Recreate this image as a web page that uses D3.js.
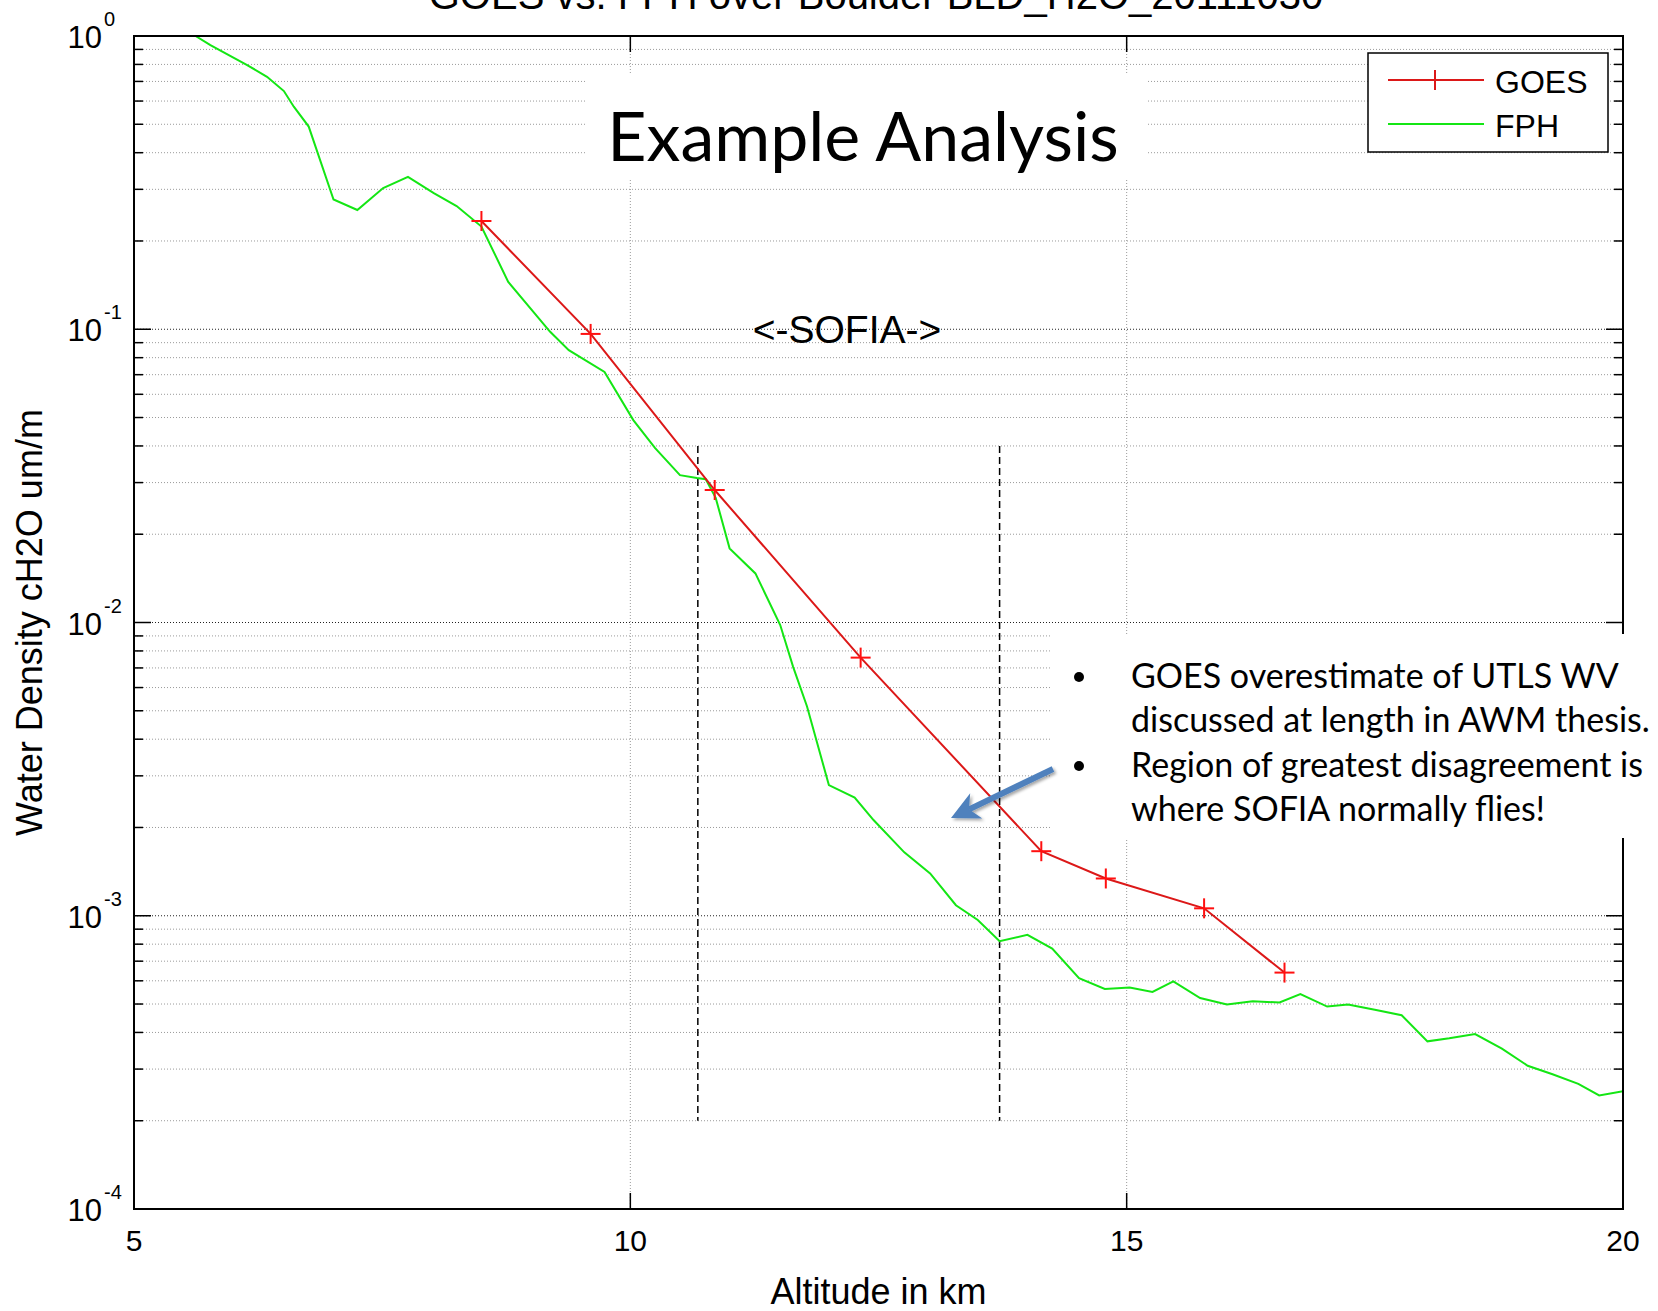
<!DOCTYPE html>
<html>
<head>
<meta charset="utf-8">
<script src="https://cdn.jsdelivr.net/npm/d3@7"></script>
<style>
  html, body { margin: 0; padding: 0; background: #fff; }
  svg { display: block; }
  .ml { font-family: "Liberation Sans", Arial, Helvetica, sans-serif; fill: #000; }
  .pp { font-family: Lato, "Open Sans", sans-serif; fill: #000; }
</style>
</head>
<body>
<svg id="chart" width="1658" height="1311"></svg>
<script>
// GOES retrieval points (altitude km, water density)
const goesAlt = [8.50, 9.60, 10.85, 12.32, 14.14, 14.79, 15.78, 16.59];
const goesVal = [0.234, 0.0964, 0.0283, 0.00759, 0.00166, 0.00134, 0.00106, 0.00064];

// FPH frost point hygrometer profile
const fphAlt = [5.62, 5.77, 6.14, 6.34, 6.51, 6.61, 6.76, 7.01, 7.25, 7.51, 7.76, 8.02, 8.25, 8.50,
  8.77, 9.19, 9.38, 9.74, 10.03, 10.25, 10.50, 10.67, 10.76, 10.86, 11.00, 11.26, 11.51, 11.64,
  11.78, 12.00, 12.26, 12.45, 12.76, 13.02, 13.28, 13.50, 13.72, 14.00, 14.25, 14.52, 14.78,
  15.03, 15.26, 15.47, 15.74, 16.01, 16.27, 16.54, 16.75, 17.02, 17.23, 17.50, 17.77, 18.03,
  18.25, 18.51, 18.78, 19.04, 19.29, 19.55, 19.76, 20.0];
const fphVal = [1.0, 0.931, 0.796, 0.726, 0.649, 0.574, 0.491, 0.277, 0.255, 0.303, 0.331, 0.291, 0.263, 0.224,
  0.145, 0.0982, 0.0849, 0.0715, 0.0490, 0.0393, 0.0318, 0.0311, 0.0308, 0.0266, 0.0179, 0.0147, 0.0098, 0.00706,
  0.00517, 0.00279, 0.00253, 0.00212, 0.001645, 0.001394, 0.001086, 0.000967, 0.000819, 0.000861, 0.000773, 0.000612, 0.000563,
  0.000569, 0.000550, 0.000597, 0.000524, 0.000498, 0.000511, 0.000506, 0.000541, 0.000490, 0.000498, 0.000478, 0.000458, 0.000373,
  0.000382, 0.000395, 0.000352, 0.000308, 0.000288, 0.000267, 0.000244, 0.000252];

// SOFIA altitude band markers
const sofiaBand = [10.68, 13.72];
const sofiaSpan = [2.0e-4, 0.04];

const xTicks = [5, 10, 15, 20];
const yDecades = [-4, -3, -2, -1, 0];

const chartTitle = "GOES vs. FPH over Boulder BLD_H2O_20111030";
const xLabel = "Altitude in km";
const yLabel = "Water Density cH2O um/m";
const bullets = [
  ["GOES overestimate of UTLS WV", "discussed at length in AWM thesis."],
  ["Region of greatest disagreement is", "where SOFIA normally flies!"]
];

const L = 134, R = 1623, T = 36, B = 1209;
const svg = d3.select("#chart");
const x = d3.scaleLinear().domain([5, 20]).range([L, R]);
const y = d3.scaleLog().domain([1e-4, 1]).range([B, T]);

// grid
const grid = svg.append("g");
const minorVals = [];
for (let k = -4; k < 0; k++) for (let m = 2; m <= 9; m++) minorVals.push(m * Math.pow(10, k));
grid.selectAll("line.minor").data(minorVals).join("line")
  .attr("x1", L).attr("x2", R).attr("y1", d => y(d)).attr("y2", d => y(d))
  .attr("stroke", "#9a9a9a").attr("stroke-width", 1).attr("stroke-dasharray", "1,2");
grid.selectAll("line.major").data(yDecades.slice(1, -1)).join("line")
  .attr("x1", L).attr("x2", R).attr("y1", d => y(Math.pow(10, d))).attr("y2", d => y(Math.pow(10, d)))
  .attr("stroke", "#222").attr("stroke-width", 1).attr("stroke-dasharray", "1,2");
grid.selectAll("line.vx").data(xTicks.slice(1, -1)).join("line")
  .attr("x1", d => x(d)).attr("x2", d => x(d)).attr("y1", T).attr("y2", B)
  .attr("stroke", "#9a9a9a").attr("stroke-width", 1).attr("stroke-dasharray", "1,2");

// ticks (inside, all four sides)
const ticks = svg.append("g").attr("stroke", "#000").attr("stroke-width", 1.5);
minorVals.forEach(v => {
  ticks.append("line").attr("x1", L).attr("x2", L + 9).attr("y1", y(v)).attr("y2", y(v));
  ticks.append("line").attr("x1", R).attr("x2", R - 9).attr("y1", y(v)).attr("y2", y(v));
});
yDecades.forEach(d => {
  const v = Math.pow(10, d);
  ticks.append("line").attr("x1", L).attr("x2", L + 17).attr("y1", y(v)).attr("y2", y(v));
  ticks.append("line").attr("x1", R).attr("x2", R - 17).attr("y1", y(v)).attr("y2", y(v));
});
xTicks.forEach(t => {
  ticks.append("line").attr("x1", x(t)).attr("x2", x(t)).attr("y1", B).attr("y2", B - 16);
  ticks.append("line").attr("x1", x(t)).attr("x2", x(t)).attr("y1", T).attr("y2", T + 16);
});

// SOFIA band
svg.append("g").selectAll("line").data(sofiaBand).join("line")
  .attr("x1", d => x(d)).attr("x2", d => x(d))
  .attr("y1", y(sofiaSpan[1])).attr("y2", y(sofiaSpan[0]))
  .attr("stroke", "#000").attr("stroke-width", 1.5).attr("stroke-dasharray", "7,4");

// clip for series
svg.append("clipPath").attr("id", "plotclip").append("rect")
  .attr("x", L).attr("y", T).attr("width", R - L).attr("height", B - T);

const line = d3.line().x(d => x(d[0])).y(d => y(d[1]));
const fph = fphAlt.map((a, i) => [a, fphVal[i]]);
const goes = goesAlt.map((a, i) => [a, goesVal[i]]);

svg.append("path").attr("clip-path", "url(#plotclip)").datum(fph).attr("d", line)
  .attr("fill", "none").attr("stroke", "#14e614").attr("stroke-width", 2);
svg.append("path").datum(goes).attr("d", line)
  .attr("fill", "none").attr("stroke", "#dc1818").attr("stroke-width", 2);
const plus = svg.append("g").attr("stroke", "#ff1010").attr("stroke-width", 2);
goes.forEach(p => {
  const cx = x(p[0]), cy = y(p[1]);
  plus.append("line").attr("x1", cx - 10).attr("x2", cx + 10).attr("y1", cy).attr("y2", cy);
  plus.append("line").attr("x1", cx).attr("x2", cx).attr("y1", cy - 10).attr("y2", cy + 10);
});

// axes frame
svg.append("rect").attr("x", L).attr("y", T).attr("width", R - L).attr("height", B - T)
  .attr("fill", "none").attr("stroke", "#000").attr("stroke-width", 2);

// tick labels
const lab = svg.append("g").attr("class", "ml");
xTicks.forEach(t => {
  lab.append("text").attr("x", x(t)).attr("y", 1251).attr("text-anchor", "middle")
    .attr("font-size", 30).text(t);
});
yDecades.forEach(d => {
  const yy = y(Math.pow(10, d));
  lab.append("text").attr("x", 102).attr("y", yy + 12).attr("text-anchor", "end")
    .attr("font-size", 31).text("10");
  lab.append("text").attr("x", 104).attr("y", yy - 10).attr("text-anchor", "start")
    .attr("font-size", 20).text(d);
});

// axis labels and title
lab.append("text").attr("x", (L + R) / 2).attr("y", 1304).attr("text-anchor", "middle")
  .attr("font-size", 36).text(xLabel);
lab.append("text").attr("transform", `translate(42,${(T + B) / 2}) rotate(-90)`)
  .attr("text-anchor", "middle").attr("font-size", 36).text(yLabel);
lab.append("text").attr("x", 876).attr("y", 9).attr("text-anchor", "middle")
  .attr("font-size", 40).text(chartTitle);
lab.append("text").attr("x", 847).attr("y", 343).attr("text-anchor", "middle")
  .attr("font-size", 39).text("<-SOFIA->");

// legend
const lg = svg.append("g");
lg.append("rect").attr("x", 1368).attr("y", 53).attr("width", 240).attr("height", 99)
  .attr("fill", "#fff").attr("stroke", "#000").attr("stroke-width", 1.5);
lg.append("line").attr("x1", 1388).attr("x2", 1484).attr("y1", 80).attr("y2", 80)
  .attr("stroke", "#dc1818").attr("stroke-width", 2);
lg.append("line").attr("x1", 1435).attr("x2", 1435).attr("y1", 70).attr("y2", 90)
  .attr("stroke", "#dc1818").attr("stroke-width", 2);
lg.append("line").attr("x1", 1388).attr("x2", 1484).attr("y1", 124).attr("y2", 124)
  .attr("stroke", "#14e614").attr("stroke-width", 2);
lg.append("text").attr("class", "ml").attr("x", 1495).attr("y", 93).attr("font-size", 32).text("GOES");
lg.append("text").attr("class", "ml").attr("x", 1495).attr("y", 137).attr("font-size", 32).text("FPH");

// slide overlays: headline box and notes box
svg.append("rect").attr("x", 586).attr("y", 74).attr("width", 562).attr("height", 106).attr("fill", "#fff");
svg.append("text").attr("class", "pp").attr("x", 863).attr("y", 161).attr("text-anchor", "middle")
  .attr("font-size", 68).text("Example Analysis");

svg.append("rect").attr("x", 1052).attr("y", 634).attr("width", 606).attr("height", 204).attr("fill", "#fff");
const notes = svg.append("g").attr("class", "pp").attr("font-size", 34);
const baselines = [688, 732, 777, 821];
bullets.forEach((b, i) => {
  notes.append("circle").attr("cx", 1079).attr("cy", baselines[i * 2] - 11).attr("r", 5).attr("fill", "#000");
  b.forEach((ln, j) => {
    notes.append("text").attr("x", 1131).attr("y", baselines[i * 2 + j]).text(ln);
  });
});

// pointer arrow
const defs = svg.append("defs");
const f = defs.append("filter").attr("id", "shadow").attr("x", "-20%").attr("y", "-20%").attr("width", "140%").attr("height", "140%");
f.append("feDropShadow").attr("dx", 2).attr("dy", 2).attr("stdDeviation", 1.5).attr("flood-color", "#000").attr("flood-opacity", 0.35);
const ax0 = 1053, ay0 = 769, ax1 = 951, ay1 = 818;
const ang = Math.atan2(ay1 - ay0, ax1 - ax0);
const hl = 28, hw = 14;
const bx = ax1 - hl * Math.cos(ang), by = ay1 - hl * Math.sin(ang);
const arrow = svg.append("g").attr("filter", "url(#shadow)");
arrow.append("line").attr("x1", ax0).attr("y1", ay0).attr("x2", bx + 8 * Math.cos(ang)).attr("y2", by + 8 * Math.sin(ang))
  .attr("stroke", "#4f81bd").attr("stroke-width", 6);
arrow.append("path").attr("d", `M${ax1},${ay1} L${bx - hw * Math.sin(ang)},${by + hw * Math.cos(ang)} L${bx + 8 * Math.cos(ang)},${by + 8 * Math.sin(ang)} L${bx + hw * Math.sin(ang)},${by - hw * Math.cos(ang)} Z`)
  .attr("fill", "#4f81bd");
</script>
</body>
</html>
